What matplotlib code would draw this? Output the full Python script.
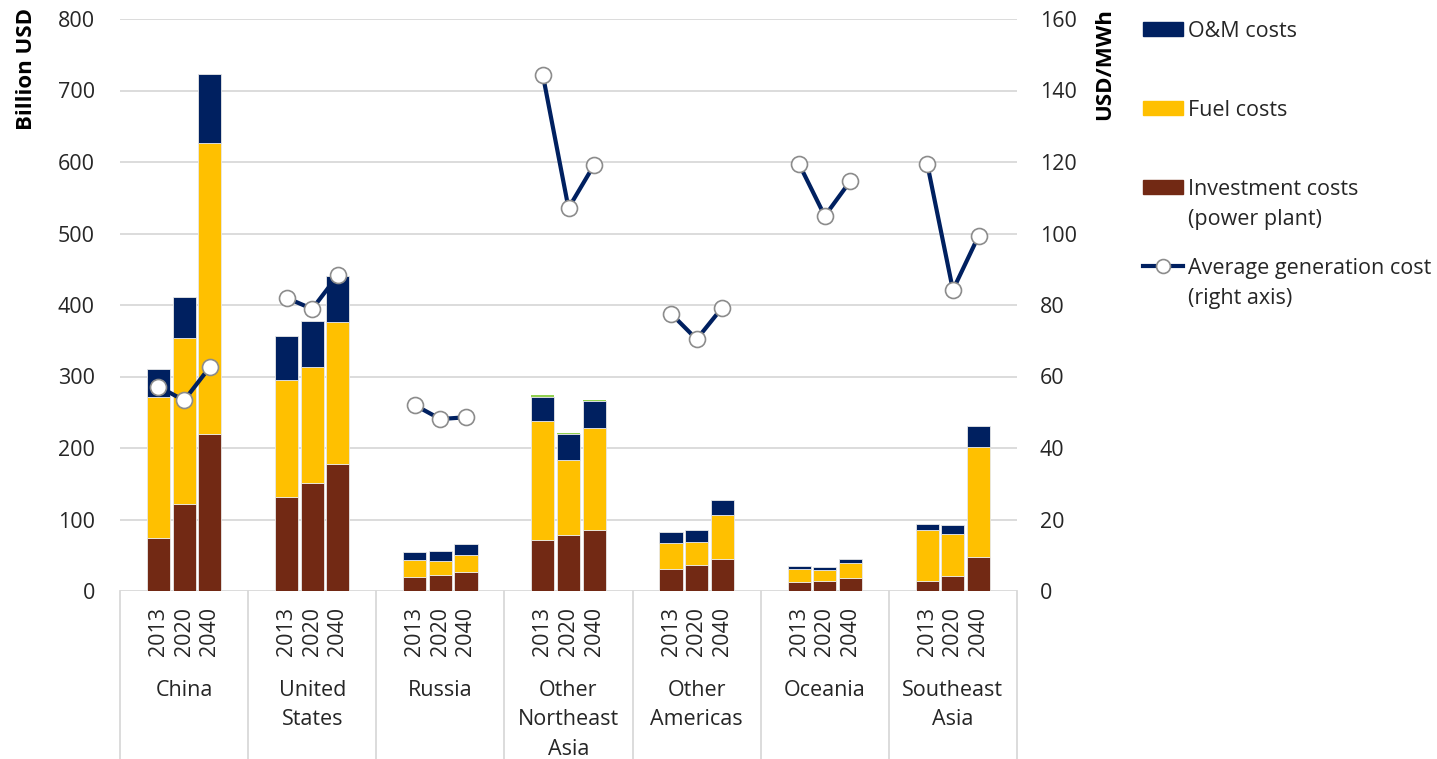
"""
Power generation cost by region: stacked cost components (left axis)
with the average generation cost per MWh overlaid (right axis).
"""

import numpy as np
import matplotlib.pyplot as plt
from matplotlib.patches import Rectangle
from matplotlib.lines import Line2D

plt.rcParams["font.family"] = ["Open Sans", "DejaVu Sans"]

# --- Data ---
regions = ["China", "United\nStates", "Russia", "Other\nNortheast\nAsia",
           "Other\nAmericas", "Oceania", "Southeast\nAsia"]
years = ["2013", "2020", "2040"]

# Billion USD, listed per region as 2013, 2020, 2040
investment = [74, 122, 219,
              132, 151, 177,
              20, 22, 26,
              71, 79, 85,
              31, 37, 45,
              12, 14, 18,
              14, 21, 47]
fuel = [198, 232, 408,
        163, 162, 199,
        23, 20, 25,
        167, 104, 143,
        36, 32, 61,
        19, 15, 21,
        72, 59, 154]
om = [39, 57, 96,
      62, 65, 65,
      11, 14, 15,
      34, 36, 38,
      15, 17, 21,
      4, 5, 6,
      8, 12, 30]
other = [0, 0, 0,
         0, 0, 0,
         0, 0, 0,
         1.5, 1.5, 1.5,
         0, 0, 0,
         0, 0, 0,
         0, 0, 0]

# USD/MWh
avg_cost = [57.2, 53.3, 62.6,
            82.0, 78.9, 88.3,
            52.0, 48.1, 48.6,
            144.3, 107.1, 119.2,
            77.6, 70.4, 79.3,
            119.4, 104.9, 114.7,
            119.4, 84.2, 99.3]

# --- Styling ---
NAVY = "#002060"
GOLD = "#FFC000"
BROWN = "#722914"
GREEN = "#92D050"
GRID = "#d9d9d9"
TXT = "#262626"
FS = 15.5
SLOTS = 5  # each region takes five slots: gap, three bars, gap

fig = plt.figure(figsize=(14.37, 7.59), dpi=100)
ax = fig.add_axes([120 / 1437, 1 - 591 / 759, 897 / 1437, 572 / 759])
ax2 = ax.twinx()

n = len(regions)
x = np.array([g * SLOTS + 1 + k for g in range(n) for k in range(3)])
investment = np.array(investment)
fuel = np.array(fuel)
om = np.array(om)
other = np.array(other)

bw = 0.9
ekw = dict(edgecolor="#e8e8e8", linewidth=0.6)
ax.bar(x, investment, bw, color=BROWN, zorder=3, **ekw)
ax.bar(x, fuel, bw, bottom=investment, color=GOLD, zorder=3, **ekw)
ax.bar(x, om, bw, bottom=investment + fuel, color=NAVY, zorder=3, **ekw)
ax.bar(x, other, bw, bottom=investment + fuel + om, color=GREEN, zorder=3,
       linewidth=0)

# cost line, broken between regions
for g in range(n):
    sl = slice(g * 3, g * 3 + 3)
    ax2.plot(x[sl], avg_cost[sl], color=NAVY, lw=3, marker="o", ms=11.5,
             mfc="white", mec="#8c8c8c", mew=1.2, zorder=5)

ax.set_xlim(-0.5, n * SLOTS - 0.5)
ax.set_ylim(0, 800)
ax.set_yticks(range(0, 801, 100))
ax2.set_ylim(0, 160)
ax2.set_yticks(range(0, 161, 20))

ax.yaxis.grid(True, color=GRID, lw=1.3, zorder=0)
ax.set_axisbelow(True)
ax.set_xticks([])
for a in (ax, ax2):
    for s in a.spines.values():
        s.set_visible(False)
    a.tick_params(axis="y", length=0, labelsize=FS, colors=TXT)
ax.tick_params(axis="y", pad=18)
ax2.tick_params(axis="y", pad=16.5)
ax2.set_zorder(ax.get_zorder() + 1)
ax2.patch.set_visible(False)

# category cells below the plot
xt = ax.get_xaxis_transform()
for g in range(n + 1):
    ax.plot([g * SLOTS - 0.5] * 2, [0, -0.4], transform=xt, color=GRID,
            lw=1.3, clip_on=False)
for xi, yr in zip(x, years * n):
    ax.text(xi, -0.071, yr, transform=xt, rotation=90, ha="center",
            va="center", fontsize=FS, color=TXT)
for g, name in enumerate(regions):
    ax.text(g * SLOTS + 2, -0.155, name, transform=xt, ha="center",
            va="top", fontsize=FS, color=TXT, linespacing=1.55)

# axis titles
fig.text(27 / 1437, 1 - 8 / 759, "Billion USD", rotation=90, ha="center",
         va="top", fontsize=16, fontweight="bold", color="black")
fig.text(1105 / 1437, 1 - 8 / 759, "USD/MWh", rotation=90, ha="center",
         va="top", fontsize=16, fontweight="bold", color="black")

# legend drawn by hand to keep Excel-like spacing
W, H = 1437, 759
legend_items = [("O&M costs", NAVY, 29), ("Fuel costs", GOLD, 108),
                ("Investment costs\n(power plant)", BROWN, 187)]
for label, col, yc in legend_items:
    fig.patches.append(Rectangle((1143 / W, 1 - (yc + 7) / H), 40 / W, 14 / H,
                                 transform=fig.transFigure, color=col))
    fig.text(1188 / W, 1 - (yc - 8) / H, label, ha="left", va="top",
             fontsize=FS, color=TXT, linespacing=1.55)
yc = 266
fig.lines.append(Line2D([1143 / W, 1183 / W], [1 - yc / H] * 2,
                        transform=fig.transFigure, color=NAVY, lw=3))
fig.lines.append(Line2D([1163 / W], [1 - yc / H], transform=fig.transFigure,
                        marker="o", ms=10, mfc="white", mec="#8c8c8c",
                        mew=1.2, ls="none"))
fig.text(1188 / W, 1 - (yc - 8) / H, "Average generation cost\n(right axis)",
         ha="left", va="top", fontsize=FS, color=TXT, linespacing=1.55)

fig.savefig("out.png", dpi=100)
